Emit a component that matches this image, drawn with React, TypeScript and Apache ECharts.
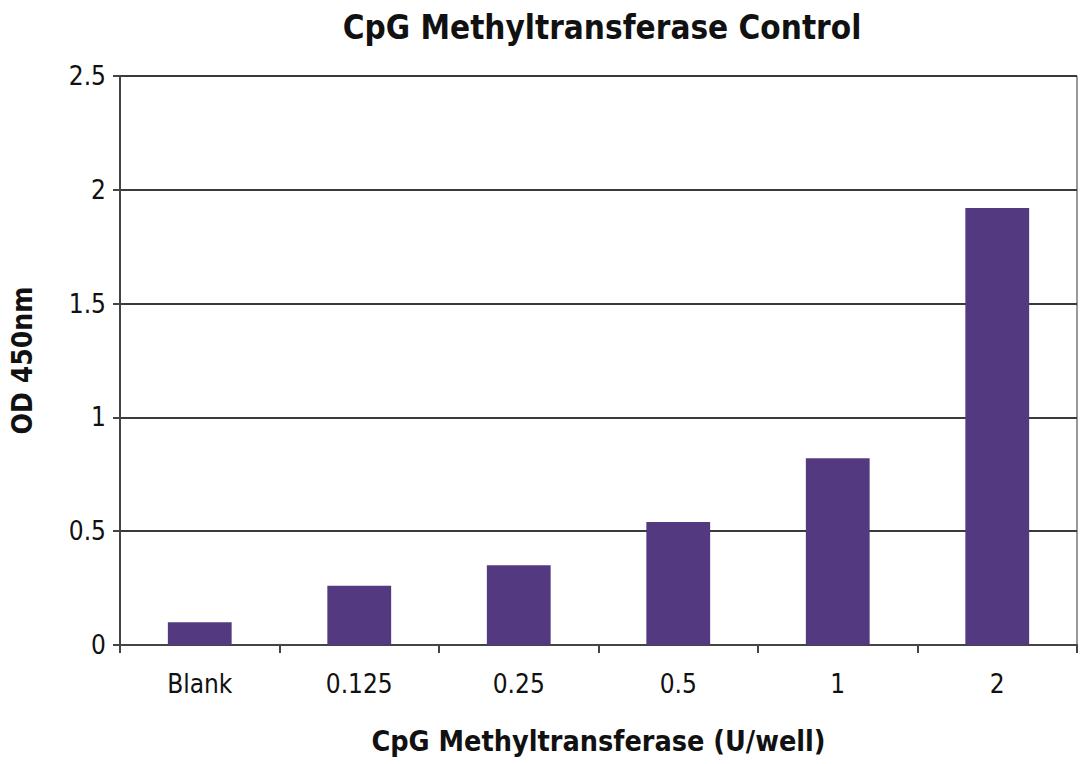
import React, { useEffect, useRef } from "react";
import * as echarts from "echarts";

const categories = ["Blank", "0.125", "0.25", "0.5", "1", "2"];
const odValues = [0.1, 0.26, 0.35, 0.54, 0.82, 1.92];
const titleText = "CpG Methyltransferase Control";
const xAxisName = "CpG Methyltransferase (U/well)";
const yAxisName = "OD 450nm";

const FONT = "'Liberation Sans Narrow', 'DejaVu Sans Condensed', 'Open Sans', sans-serif";

export default function App() {
  const ref = useRef<HTMLDivElement>(null);
  useEffect(() => {
    if (!ref.current) return;
    const chart = echarts.init(ref.current, null, { renderer: "svg" });
    chart.setOption({
      animation: false,
      backgroundColor: "#ffffff",
      title: {
        text: titleText,
        left: 597,
        textAlign: "center",
        top: 6,
        textStyle: { fontFamily: FONT, fontSize: 33, fontWeight: "bold", color: "#111" },
      },
      grid: { left: 118, right: 3, top: 76, bottom: 119, containLabel: false },
      xAxis: {
        type: "category",
        data: categories,
        name: xAxisName,
        nameLocation: "middle",
        nameGap: 82,
        nameTextStyle: { fontFamily: FONT, fontSize: 28.5, fontWeight: "bold", color: "#111" },
        axisLine: { lineStyle: { color: "#444", width: 2 } },
        axisTick: { show: true, alignWithLabel: false, length: 8, lineStyle: { color: "#444", width: 2 } },
        axisLabel: { fontFamily: FONT, fontSize: 26, color: "#111", margin: 26 },
      },
      yAxis: {
        type: "value",
        min: 0,
        max: 2.5,
        interval: 0.5,
        name: yAxisName,
        nameLocation: "middle",
        nameGap: 84,
        nameRotate: 90,
        nameTextStyle: { fontFamily: FONT, fontSize: 28, fontWeight: "bold", color: "#111" },
        axisLine: { show: true, lineStyle: { color: "#444", width: 2 } },
        axisTick: { show: true, inside: false, length: 7, lineStyle: { color: "#444", width: 2 } },
        axisLabel: { fontFamily: FONT, fontSize: 26, color: "#111", margin: 14 },
        splitLine: { show: true, lineStyle: { color: "#3a3a3a", width: 1.8 } },
      },
      series: [
        {
          type: "bar",
          data: odValues,
          barWidth: "40%",
          itemStyle: { color: "#533a80" },
        },
      ],
      graphic: [
        {
          type: "line",
          shape: { x1: 1077, y1: 76, x2: 1077, y2: 645 },
          style: { stroke: "#999", lineWidth: 2 },
        },
      ],
    });
    return () => chart.dispose();
  }, []);
  return (
    <div
      ref={ref}
      style={{ position: "fixed", left: 0, top: 0, width: 1080, height: 764, background: "#fff" }}
    />
  );
}
